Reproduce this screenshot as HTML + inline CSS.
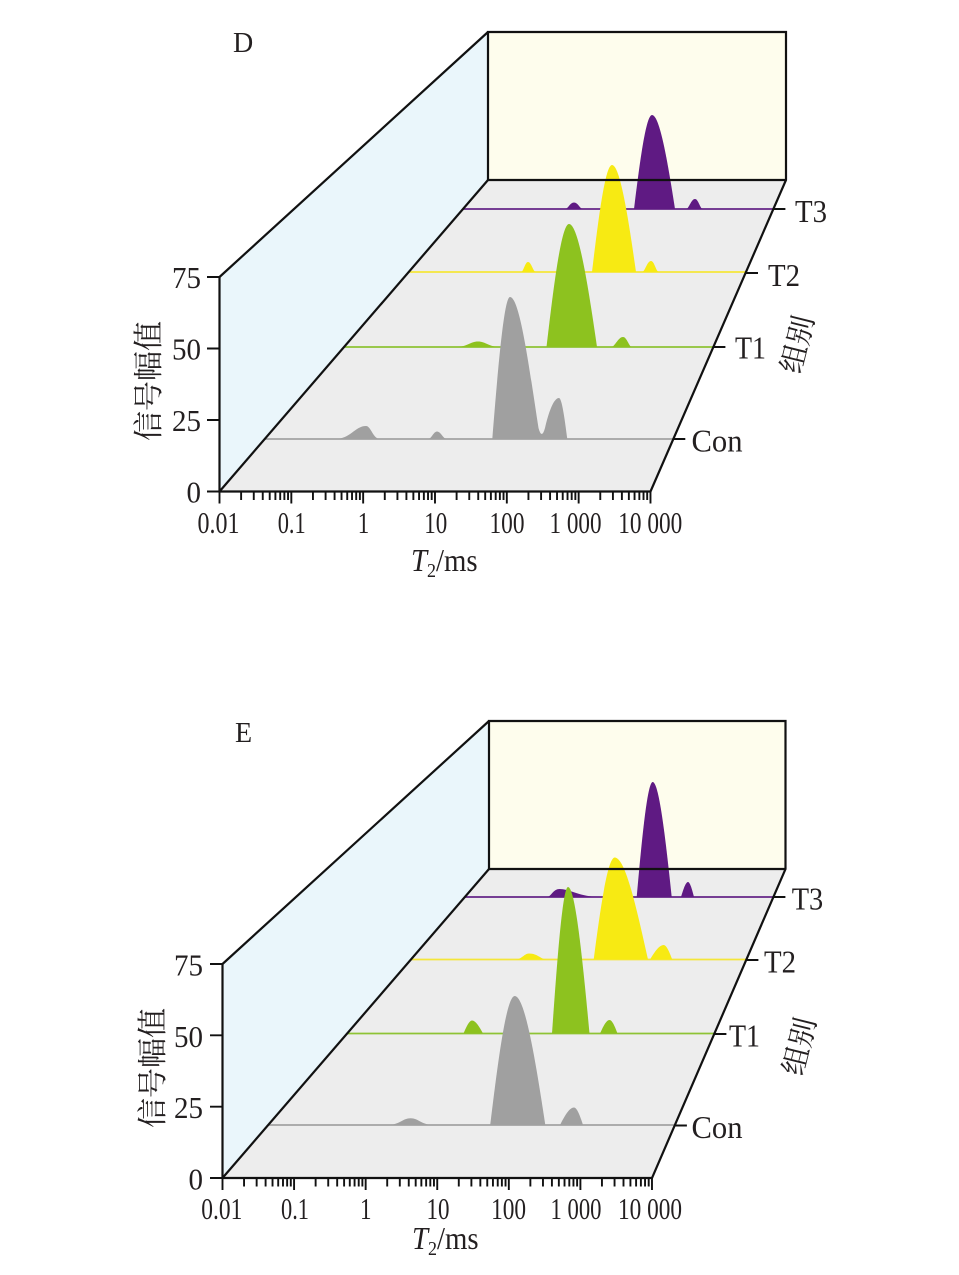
<!DOCTYPE html>
<html>
<head>
<meta charset="utf-8">
<style>
html,body{margin:0;padding:0;background:#fff;}
svg{display:block;}
</style>
</head>
<body>
<svg width="959" height="1275" viewBox="0 0 959 1275" xmlns="http://www.w3.org/2000/svg" font-family="'Liberation Serif','Noto Serif CJK SC',serif">
<rect x="0" y="0" width="959" height="1275" fill="#ffffff"/>

<!-- ================= PANEL D ================= -->
<polygon points="219.5,491.5 219.5,277 488,32 488,180" fill="#EAF6FB"/>
<rect x="488" y="32" width="298" height="148" fill="#FEFDED"/>
<polygon points="219.5,491.5 650.5,491.5 786,180 488,180" fill="#EDEDED"/>

<!-- T3 -->
<line x1="463" y1="209" x2="773.4" y2="209" stroke="#642487" stroke-width="1.8"/>
<g fill="#5F1A83">
<path d="M565,209 C568,209 570,202.5 574,202.5 C578,202.5 580,209 583,209Z"/>
<path d="M634,209 C639.9,160.9 646,115 652,115 C659.7,115 667.5,160.9 675,209Z"/>
<path d="M686,209 C689,209 691,199 695,199 C698.5,199 700,209 703,209Z"/>
</g>
<!-- T2 -->
<line x1="408.7" y1="272" x2="746" y2="272" stroke="#F4E63A" stroke-width="1.8"/>
<g fill="#F7EA13">
<path d="M521,272 C523.5,272 525,262 528,262 C531.5,262 533,272 536,272Z"/>
<path d="M592,272 C598.5,217.2 605.3,165 612,165 C620,165 628.2,217.2 636,272Z"/>
<path d="M642,272 C645,272 647,261 651,261 C654.5,261 656,272 659,272Z"/>
</g>
<!-- T1 -->
<line x1="344.1" y1="347" x2="713.4" y2="347" stroke="#8EC335" stroke-width="1.8"/>
<g fill="#8DC21F">
<path d="M456,347 C467,347 470.3,341.5 478,341.5 C485.7,341.5 489,347 500,347Z"/>
<path d="M546.5,347 C553.8,284 561.5,224 569,224 C578.3,224 587.9,284 597,347Z"/>
<path d="M611,347 C615,347 618,337 623,337 C627,337 629,347 632,347Z"/>
</g>
<!-- Con -->
<line x1="264.8" y1="439" x2="673.3" y2="439" stroke="#A3A3A3" stroke-width="1.8"/>
<g fill="#A0A0A0">
<path d="M335,439 C350.5,439 355,426 366,426 C371,426 373,439 380,439Z"/>
<path d="M428,439 C431.5,439 433.5,431.5 437,431.5 C441,431.5 443,439 447,439Z"/>
<path d="M492.3,439 C498.1,366.3 504.1,297 510,297 C520,297 529.5,370 538.5,428 Q541.7,440 545,428 C548.5,413 553.5,398 559,398 C561.8,398 564.6,418 567.3,439 Z"/>
</g>

<!-- frame D -->
<g stroke="#111" stroke-width="2.2" fill="none" stroke-linejoin="miter">
<path d="M219.5,277 V491.5 H650.5 L786,180 V32 H488 V180 H786"/>
<path d="M219.5,277 L488,32"/>
<path d="M219.5,491.5 L488,180"/>
</g>
<g stroke="#111" stroke-width="1.9" fill="none">
<path d="M207,277 h12.5 M207,348.5 h12.5 M207,420 h12.5 M207,491.5 h12.5"/>
<path d="M773.4,209 h12 M746,273 h12 M713.4,347 h12 M673.3,439 h12"/>
<path d="M219.5,491.5 v12 m21.62,-12 v8.5 m12.65,-8.5 v8.5 m8.98,-8.5 v8.5 m6.96,-8.5 v8.5 m5.69,-8.5 v8.5 m4.80,-8.5 v8.5 m4.17,-8.5 v8.5 m3.67,-8.5 v8.5 m3.29,-8.5 v12 m21.62,-12 v8.5 m12.65,-8.5 v8.5 m8.98,-8.5 v8.5 m6.96,-8.5 v8.5 m5.69,-8.5 v8.5 m4.80,-8.5 v8.5 m4.17,-8.5 v8.5 m3.67,-8.5 v8.5 m3.29,-8.5 v12 m21.62,-12 v8.5 m12.65,-8.5 v8.5 m8.98,-8.5 v8.5 m6.96,-8.5 v8.5 m5.69,-8.5 v8.5 m4.80,-8.5 v8.5 m4.17,-8.5 v8.5 m3.67,-8.5 v8.5 m3.29,-8.5 v12 m21.62,-12 v8.5 m12.65,-8.5 v8.5 m8.98,-8.5 v8.5 m6.96,-8.5 v8.5 m5.69,-8.5 v8.5 m4.80,-8.5 v8.5 m4.17,-8.5 v8.5 m3.67,-8.5 v8.5 m3.29,-8.5 v12 m21.62,-12 v8.5 m12.65,-8.5 v8.5 m8.98,-8.5 v8.5 m6.96,-8.5 v8.5 m5.69,-8.5 v8.5 m4.80,-8.5 v8.5 m4.17,-8.5 v8.5 m3.67,-8.5 v8.5 m3.29,-8.5 v12 m21.62,-12 v8.5 m12.65,-8.5 v8.5 m8.98,-8.5 v8.5 m6.96,-8.5 v8.5 m5.69,-8.5 v8.5 m4.80,-8.5 v8.5 m4.17,-8.5 v8.5 m3.67,-8.5 v8.5 m3.29,-8.5 v12"/>
</g>

<!-- text D -->
<g fill="#231F20">
<text x="233" y="52" font-size="28">D</text>
<g font-size="31" text-anchor="end">
<text x="201" y="288" textLength="29" lengthAdjust="spacingAndGlyphs">75</text>
<text x="201" y="359.5" textLength="29" lengthAdjust="spacingAndGlyphs">50</text>
<text x="201" y="431" textLength="29" lengthAdjust="spacingAndGlyphs">25</text>
<text x="201" y="502.5" textLength="14.5" lengthAdjust="spacingAndGlyphs">0</text>
</g>
<g font-size="31" text-anchor="middle">
<text x="218.5" y="533" textLength="42" lengthAdjust="spacingAndGlyphs">0.01</text>
<text x="291.7" y="533" textLength="28" lengthAdjust="spacingAndGlyphs">0.1</text>
<text x="363.5" y="533" textLength="11.5" lengthAdjust="spacingAndGlyphs">1</text>
<text x="435.8" y="533" textLength="23" lengthAdjust="spacingAndGlyphs">10</text>
<text x="507" y="533" textLength="35" lengthAdjust="spacingAndGlyphs">100</text>
<text x="575.5" y="533" textLength="52" lengthAdjust="spacingAndGlyphs">1 000</text>
<text x="650.3" y="533" textLength="64" lengthAdjust="spacingAndGlyphs">10 000</text>
</g>
<text transform="translate(411,571) scale(0.9,1)" font-size="32"><tspan font-style="italic">T</tspan><tspan font-size="20" dy="6">2</tspan><tspan dy="-6">/ms</tspan></text>
<g font-size="32">
<text x="795" y="222" textLength="32" lengthAdjust="spacingAndGlyphs">T3</text>
<text x="768" y="286" textLength="32" lengthAdjust="spacingAndGlyphs">T2</text>
<text x="735" y="358.5" textLength="31" lengthAdjust="spacingAndGlyphs">T1</text>
<text x="691.5" y="451.5" textLength="51" lengthAdjust="spacingAndGlyphs">Con</text>
</g>
<text transform="translate(146,381) rotate(-90)" font-size="30" text-anchor="middle" dominant-baseline="central" font-family="'Noto Serif CJK SC','Noto Sans CJK SC',serif">信号幅值</text>
<text transform="translate(796,344) rotate(-76)" font-size="29" text-anchor="middle" dominant-baseline="central" font-family="'Noto Serif CJK SC','Noto Sans CJK SC',serif">组别</text>
</g>

<!-- ================= PANEL E ================= -->
<polygon points="222.5,1178 222.5,964 489,721 489,869" fill="#EAF6FB"/>
<rect x="489" y="721" width="296.5" height="148" fill="#FEFDED"/>
<polygon points="222.5,1178 652,1178 785.5,869 489,869" fill="#EDEDED"/>

<!-- T3 -->
<line x1="464.9" y1="897" x2="773.4" y2="897" stroke="#642487" stroke-width="1.8"/>
<g fill="#5F1A83">
<path d="M547,897 C551,897 553,889 559.5,889 C570,889 580,897 600,897Z"/>
<path d="M636.7,897 C641.9,838.1 647.4,782 652.7,782 C659,782 665.5,838.1 671.7,897Z"/>
<path d="M681,897 C683.3,889.3 685.7,882 688,882 C690,882 692,889.3 694,897Z"/>
</g>
<!-- T2 -->
<line x1="411" y1="959.5" x2="746.4" y2="959.5" stroke="#F4E63A" stroke-width="1.8"/>
<g fill="#F7EA13">
<path d="M515,959.5 C522,959.5 524.1,953.5 529,953.5 C538,953.5 540.7,959.5 547,959.5Z"/>
<path d="M593.7,959.5 C600.5,907.3 607.7,857.5 614.7,857.5 C625.4,857.5 636.3,907.3 648,959.5Z"/>
<path d="M650,959.5 C654.5,952.1 659.1,945 663.7,945 C666.5,945 669.4,952.1 672.2,959.5Z"/>
</g>
<!-- T1 -->
<line x1="347.1" y1="1033.5" x2="714.4" y2="1033.5" stroke="#8EC335" stroke-width="1.8"/>
<g fill="#8DC21F">
<path d="M463.5,1033.5 C466.3,1026.8 469.2,1020.5 472,1020.5 C475.7,1020.5 479.4,1026.8 483,1033.5Z"/>
<path d="M552,1033.5 C557.2,958.5 562.7,887 568,887 C575.2,887 582.5,958.5 589.5,1033.5Z"/>
<path d="M600,1033.5 C603.1,1026.6 606.3,1020 609.5,1020 C612.2,1020 614.9,1026.6 617.5,1033.5Z"/>
</g>
<!-- Con -->
<line x1="268.2" y1="1125" x2="674.9" y2="1125" stroke="#A3A3A3" stroke-width="1.8"/>
<g fill="#A0A0A0">
<path d="M388,1125 C399.3,1125 402.7,1118.3 410.6,1118.3 C418.4,1118.3 421.8,1125 433,1125Z"/>
<path d="M490.2,1125 C498.2,1059 506.5,996 514.7,996 C524.9,996 535.3,1059 545.3,1125Z"/>
<path d="M560,1125 C564.6,1116 569.3,1107.5 574,1107.5 C577,1107.5 580.1,1116 583,1125Z"/>
</g>

<!-- frame E -->
<g stroke="#111" stroke-width="2.2" fill="none" stroke-linejoin="miter">
<path d="M222.5,964 V1178 H652 L785.5,869 V721 H489 V869 H785.5"/>
<path d="M222.5,964 L489,721"/>
<path d="M222.5,1178 L489,869"/>
</g>
<g stroke="#111" stroke-width="1.9" fill="none">
<path d="M210,964 h12.5 M210,1035.3 h12.5 M210,1106.7 h12.5 M210,1178 h12.5"/>
<path d="M773.4,897 h12 M746.4,960 h12 M714.4,1034 h12 M674.9,1125.5 h12"/>
<path d="M222.5,1178 v12 m21.55,-12 v8.5 m12.60,-8.5 v8.5 m8.95,-8.5 v8.5 m6.93,-8.5 v8.5 m5.67,-8.5 v8.5 m4.79,-8.5 v8.5 m4.15,-8.5 v8.5 m3.66,-8.5 v8.5 m3.28,-8.5 v12 m21.55,-12 v8.5 m12.60,-8.5 v8.5 m8.95,-8.5 v8.5 m6.93,-8.5 v8.5 m5.67,-8.5 v8.5 m4.79,-8.5 v8.5 m4.15,-8.5 v8.5 m3.66,-8.5 v8.5 m3.28,-8.5 v12 m21.55,-12 v8.5 m12.60,-8.5 v8.5 m8.95,-8.5 v8.5 m6.93,-8.5 v8.5 m5.67,-8.5 v8.5 m4.79,-8.5 v8.5 m4.15,-8.5 v8.5 m3.66,-8.5 v8.5 m3.28,-8.5 v12 m21.55,-12 v8.5 m12.60,-8.5 v8.5 m8.95,-8.5 v8.5 m6.93,-8.5 v8.5 m5.67,-8.5 v8.5 m4.79,-8.5 v8.5 m4.15,-8.5 v8.5 m3.66,-8.5 v8.5 m3.28,-8.5 v12 m21.55,-12 v8.5 m12.60,-8.5 v8.5 m8.95,-8.5 v8.5 m6.93,-8.5 v8.5 m5.67,-8.5 v8.5 m4.79,-8.5 v8.5 m4.15,-8.5 v8.5 m3.66,-8.5 v8.5 m3.28,-8.5 v12 m21.55,-12 v8.5 m12.60,-8.5 v8.5 m8.95,-8.5 v8.5 m6.93,-8.5 v8.5 m5.67,-8.5 v8.5 m4.79,-8.5 v8.5 m4.15,-8.5 v8.5 m3.66,-8.5 v8.5 m3.28,-8.5 v12"/>
</g>

<!-- text E -->
<g fill="#231F20">
<text x="235" y="742" font-size="28">E</text>
<g font-size="31" text-anchor="end">
<text x="203" y="975.5" textLength="29" lengthAdjust="spacingAndGlyphs">75</text>
<text x="203" y="1047" textLength="29" lengthAdjust="spacingAndGlyphs">50</text>
<text x="203" y="1118" textLength="29" lengthAdjust="spacingAndGlyphs">25</text>
<text x="203" y="1189.5" textLength="14.5" lengthAdjust="spacingAndGlyphs">0</text>
</g>
<g font-size="31" text-anchor="middle">
<text x="221.8" y="1219" textLength="41" lengthAdjust="spacingAndGlyphs">0.01</text>
<text x="295" y="1219" textLength="28" lengthAdjust="spacingAndGlyphs">0.1</text>
<text x="365.7" y="1219" textLength="11.5" lengthAdjust="spacingAndGlyphs">1</text>
<text x="438" y="1219" textLength="23" lengthAdjust="spacingAndGlyphs">10</text>
<text x="508.6" y="1219" textLength="35" lengthAdjust="spacingAndGlyphs">100</text>
<text x="576" y="1219" textLength="51" lengthAdjust="spacingAndGlyphs">1 000</text>
<text x="650" y="1219" textLength="64" lengthAdjust="spacingAndGlyphs">10 000</text>
</g>
<text transform="translate(412,1249) scale(0.9,1)" font-size="32"><tspan font-style="italic">T</tspan><tspan font-size="20" dy="6">2</tspan><tspan dy="-6">/ms</tspan></text>
<g font-size="32">
<text x="791.7" y="909.3" textLength="31.5" lengthAdjust="spacingAndGlyphs">T3</text>
<text x="764" y="972.5" textLength="32" lengthAdjust="spacingAndGlyphs">T2</text>
<text x="729" y="1046.5" textLength="31" lengthAdjust="spacingAndGlyphs">T1</text>
<text x="691.5" y="1138" textLength="51" lengthAdjust="spacingAndGlyphs">Con</text>
</g>
<text transform="translate(150,1068) rotate(-90)" font-size="30" text-anchor="middle" dominant-baseline="central" font-family="'Noto Serif CJK SC','Noto Sans CJK SC',serif">信号幅值</text>
<text transform="translate(798,1046) rotate(-76)" font-size="29" text-anchor="middle" dominant-baseline="central" font-family="'Noto Serif CJK SC','Noto Sans CJK SC',serif">组别</text>
</g>
</svg>
</body>
</html>
